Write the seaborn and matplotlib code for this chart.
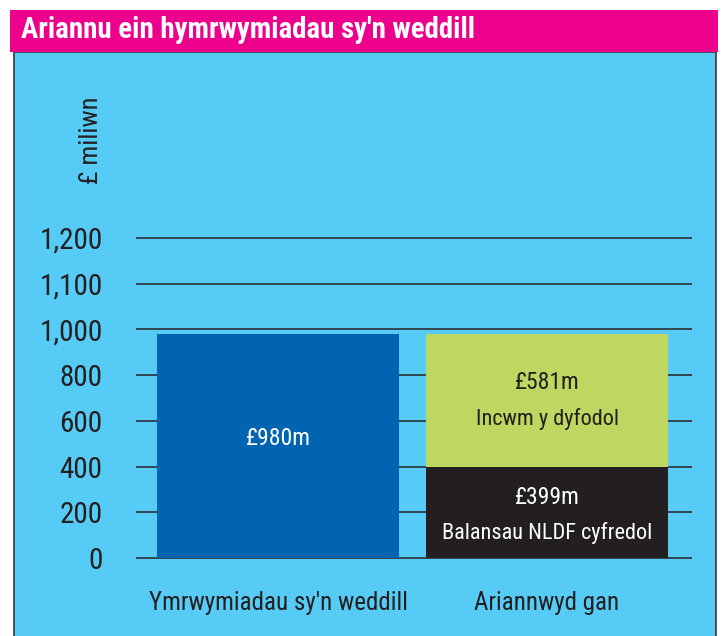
import seaborn as sns
import numpy as np
import matplotlib.pyplot as plt
import pandas as pd
from matplotlib.patches import Rectangle

# Data
categories = ["Ymrwymiadau sy'n weddill", "Ariannwyd gan"]
committed = [980, 0]            # remaining commitments
nldf_balances = [0, 399]        # Balansau NLDF cyfredol
future_income = [0, 581]        # Incwm y dyfodol
tick_values = [0, 200, 400, 600, 800, 1000, 1100, 1200]

BLUE_BG = "#55cbf5"
MAGENTA = "#ec008c"
BAR_BLUE = "#0064b0"
GREEN = "#bdd760"
DARK = "#231f20"


# The y axis is broken: 200 per step up to 1,000, then 100 per step.
def fwd(v):
    v = np.asarray(v, dtype=float)
    return np.where(v <= 1000, v / 200, 5 + (v - 1000) / 100)


def inv(u):
    u = np.asarray(u, dtype=float)
    return np.where(u <= 5, u * 200, 1000 + (u - 5) * 100)


sns.set_style("white")
plt.rcParams["font.family"] = ["Roboto Condensed", "DejaVu Sans"]

fig = plt.figure(figsize=(7.22, 6.36), dpi=100)
fig.patch.set_facecolor("white")

# background panel and title bar
fig.add_artist(Rectangle((14 / 722, -0.01), 702 / 722, 1.01 - 52 / 636, transform=fig.transFigure,
                         facecolor=BLUE_BG, edgecolor="#3a3a3a", linewidth=1.2, zorder=0))
fig.add_artist(Rectangle((10 / 722, 1 - 52 / 636), 708 / 722, 42 / 636, transform=fig.transFigure,
                         facecolor=MAGENTA, edgecolor="none", zorder=1))
fig.text(21 / 722, 1 - 30 / 636, "Ariannu ein hymrwymiadau sy'n weddill", color="white",
         fontsize=20.8, fontweight="bold", va="center", ha="left", zorder=2)

ax = fig.add_axes([136 / 722, 0.119, 556 / 722, 0.514])
ax.patch.set_visible(False)

df = pd.DataFrame({
    "category": categories,
    "total": [c + n + f for c, n, f in zip(committed, nldf_balances, future_income)],
    "balances": nldf_balances,
})

sns.barplot(data=df, x="category", y="total", hue="category",
            palette=[BAR_BLUE, GREEN], width=0.9, legend=False, saturation=1,
            linewidth=0, ax=ax)
sns.barplot(data=df, x="category", y="balances", color=DARK,
            width=0.9, saturation=1, linewidth=0, ax=ax)

ax.set_yscale("function", functions=(fwd, inv))
ax.set_ylim(-10, 1210)
ax.set_xlim(-0.528, 1.539)
ax.set_yticks(tick_values)
ax.set_yticklabels([f"{v:,}" for v in tick_values])
ax.yaxis.set_minor_locator(plt.NullLocator())
ax.grid(axis="y", color="#2e3b44", linewidth=1.3)
ax.grid(axis="x", visible=False)
ax.set_axisbelow(True)
for s in ax.spines.values():
    s.set_visible(False)
ax.tick_params(axis="y", length=0, pad=24, labelsize=21, labelcolor=DARK)
ax.tick_params(axis="x", length=0, pad=22, labelsize=18, labelcolor=DARK)
ax.set_xlabel("")
ax.set_ylabel("")

# labels inside the bars
ax.text(0, 522, "£980m", color="white", fontsize=17, ha="center", va="center")
ax.text(1, 770, "£581m", color=DARK, fontsize=17, ha="center", va="center")
ax.text(1, 609, "Incwm y dyfodol", color=DARK, fontsize=16, ha="center", va="center")
ax.text(1, 265, "£399m", color="white", fontsize=17, ha="center", va="center")
ax.text(1, 109, "Balansau NLDF cyfredol", color="white", fontsize=16, ha="center", va="center")

fig.text(91 / 722, 1 - 140 / 636, "£ miliwn", rotation=90, fontsize=19, color=DARK,
         ha="center", va="center")

plt.savefig("out.png", dpi=100)
plt.close()
